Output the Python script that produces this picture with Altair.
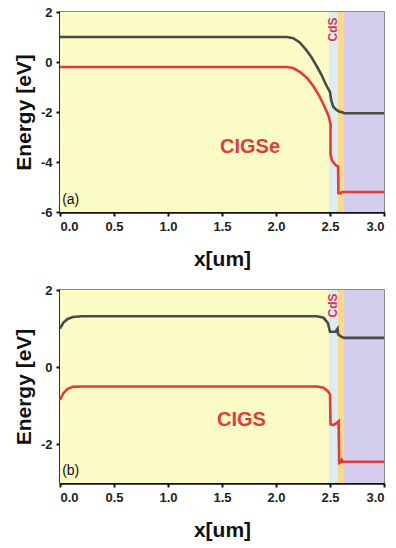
import altair as alt
import pandas as pd

# ---- layer regions (x in um) ----
region_start = [0.0, 2.49, 2.57, 2.63]
region_end = [2.49, 2.57, 2.63, 3.0]
region_name = ["absorber", "CdS", "buffer", "window"]
region_color = ["#fbfbc6", "#dcecf3", "#fdd985", "#d5cdee"]

# ---- panel (a): CIGSe ----
a_ec_x = [0.0, 2.1, 2.16, 2.22, 2.28, 2.33, 2.38, 2.42, 2.45, 2.48, 2.5, 2.51, 2.53, 2.56, 2.59, 2.62, 2.63, 3.0]
a_ec_y = [1.0, 1.0, 0.95, 0.78, 0.48, 0.18, -0.19, -0.5, -0.79, -1.05, -1.2, -1.5, -1.79, -1.92, -1.99, -2.02, -2.05, -2.05]
a_ev_x = [0.0, 2.1, 2.16, 2.22, 2.29, 2.35, 2.4, 2.45, 2.49, 2.505, 2.505, 2.52, 2.55, 2.575, 2.578, 2.6, 2.61, 3.0]
a_ev_y = [-0.2, -0.2, -0.24, -0.39, -0.65, -0.99, -1.35, -1.79, -2.19, -2.5, -3.7, -3.95, -4.12, -4.18, -5.25, -5.25, -5.2, -5.2]

# ---- panel (b): CIGS ----
b_ec_x = [0.0, 0.03, 0.07, 0.12, 0.2, 2.38, 2.44, 2.48, 2.5, 2.55, 2.57, 2.575, 2.6, 2.63, 3.0]
b_ec_y = [1.0, 1.15, 1.25, 1.3, 1.32, 1.32, 1.28, 1.15, 0.92, 0.92, 1.0, 0.85, 0.8, 0.76, 0.76]
b_ev_x = [0.0, 0.03, 0.07, 0.12, 0.2, 2.38, 2.44, 2.48, 2.5, 2.505, 2.53, 2.56, 2.58, 2.585, 2.6, 2.61, 2.62, 3.0]
b_ev_y = [-0.85, -0.68, -0.56, -0.51, -0.5, -0.5, -0.53, -0.62, -0.7, -1.48, -1.5, -1.45, -1.4, -2.48, -2.46, -2.4, -2.45, -2.45]

x_ticks = [0.0, 0.5, 1.0, 1.5, 2.0, 2.5, 3.0]

FONT = "Liberation Sans"
EC_COLOR = "#4a4a48"
EV_COLOR = "#e6393a"
LABEL_RED = "#e23b3b"
CDS_RED = "#d9345c"

regions = pd.DataFrame({"x0": region_start, "x1": region_end, "name": region_name})


def panel(ec_x, ec_y, ev_x, ev_y, ydom, yticks, h, mat_label, mat_x, mat_y, cds_y, tag, tag_y):
    xs = alt.Scale(domain=[0, 3], nice=False, zero=False)
    ys = alt.Scale(domain=ydom, nice=False, zero=False)
    xaxis = alt.Axis(values=x_ticks, format=".1f", title="x[um]")
    yaxis = alt.Axis(values=yticks, title="Energy [eV]",
                     labelExpr="replace(datum.label, '\u2212', '-')")

    bg = alt.Chart(regions).mark_rect().encode(
        x=alt.X("x0:Q", scale=xs, axis=xaxis),
        x2="x1:Q",
        color=alt.Color("name:N", scale=alt.Scale(domain=region_name, range=region_color), legend=None),
    )
    ec = alt.Chart(pd.DataFrame({"x": ec_x, "y": ec_y, "i": list(range(len(ec_x)))})).mark_line(
        color=EC_COLOR, strokeWidth=2.6).encode(
        x=alt.X("x:Q", scale=xs, axis=xaxis),
        y=alt.Y("y:Q", scale=ys, axis=yaxis),
        order="i:Q",
    )
    ev = alt.Chart(pd.DataFrame({"x": ev_x, "y": ev_y, "i": list(range(len(ev_x)))})).mark_line(
        color=EV_COLOR, strokeWidth=2.6).encode(
        x=alt.X("x:Q", scale=xs, axis=xaxis),
        y=alt.Y("y:Q", scale=ys, axis=yaxis),
        order="i:Q",
    )
    mat = alt.Chart(pd.DataFrame({"x": [mat_x], "y": [mat_y], "t": [mat_label]})).mark_text(
        font=FONT, fontWeight="bold", fontSize=20, color=LABEL_RED).encode(
        x=alt.X("x:Q", scale=xs), y=alt.Y("y:Q", scale=ys), text="t:N")
    cds = alt.Chart(pd.DataFrame({"x": [2.53], "y": [cds_y], "t": ["CdS"]})).mark_text(
        font=FONT, fontWeight="bold", fontSize=12, color=CDS_RED, angle=270).encode(
        x=alt.X("x:Q", scale=xs), y=alt.Y("y:Q", scale=ys), text="t:N")
    tg = alt.Chart(pd.DataFrame({"x": [0.02], "y": [tag_y], "t": [tag]})).mark_text(
        font=FONT, fontSize=14, color="#111", align="left").encode(
        x=alt.X("x:Q", scale=xs), y=alt.Y("y:Q", scale=ys), text="t:N")
    return alt.layer(bg, ec, ev, mat, cds, tg).properties(width=324, height=h)


top = panel(a_ec_x, a_ec_y, a_ev_x, a_ev_y, [-6, 2], [-6, -4, -2, 0, 2], 200,
            "CIGSe", 1.76, -3.4, 1.3, "(a)", -5.5)
bottom = panel(b_ec_x, b_ec_y, b_ev_x, b_ev_y, [-3, 2], [-2, 0, 2], 193,
               "CIGS", 1.68, -1.37, 1.6, "(b)", -2.7)

chart = alt.vconcat(top, bottom, spacing=13).properties(
    padding={"left": 12, "top": 5, "right": 5, "bottom": 5},
    background="white",
).configure_view(
    stroke="#666", strokeWidth=1.5
).configure_axis(
    labelFont=FONT, labelFontWeight="bold", labelFontSize=13, labelColor="#222",
    titleFont=FONT, titleFontWeight="bold", titleFontSize=21, titleColor="#111",
    domainColor="#111", domainWidth=2.5, tickColor="#111", tickWidth=2, tickSize=4,
    labelPadding=4, grid=False,
).configure_axisX(titlePadding=15).configure_axisY(titlePadding=6)

chart.save("out.html", embed_options={"renderer": "svg", "actions": False})
